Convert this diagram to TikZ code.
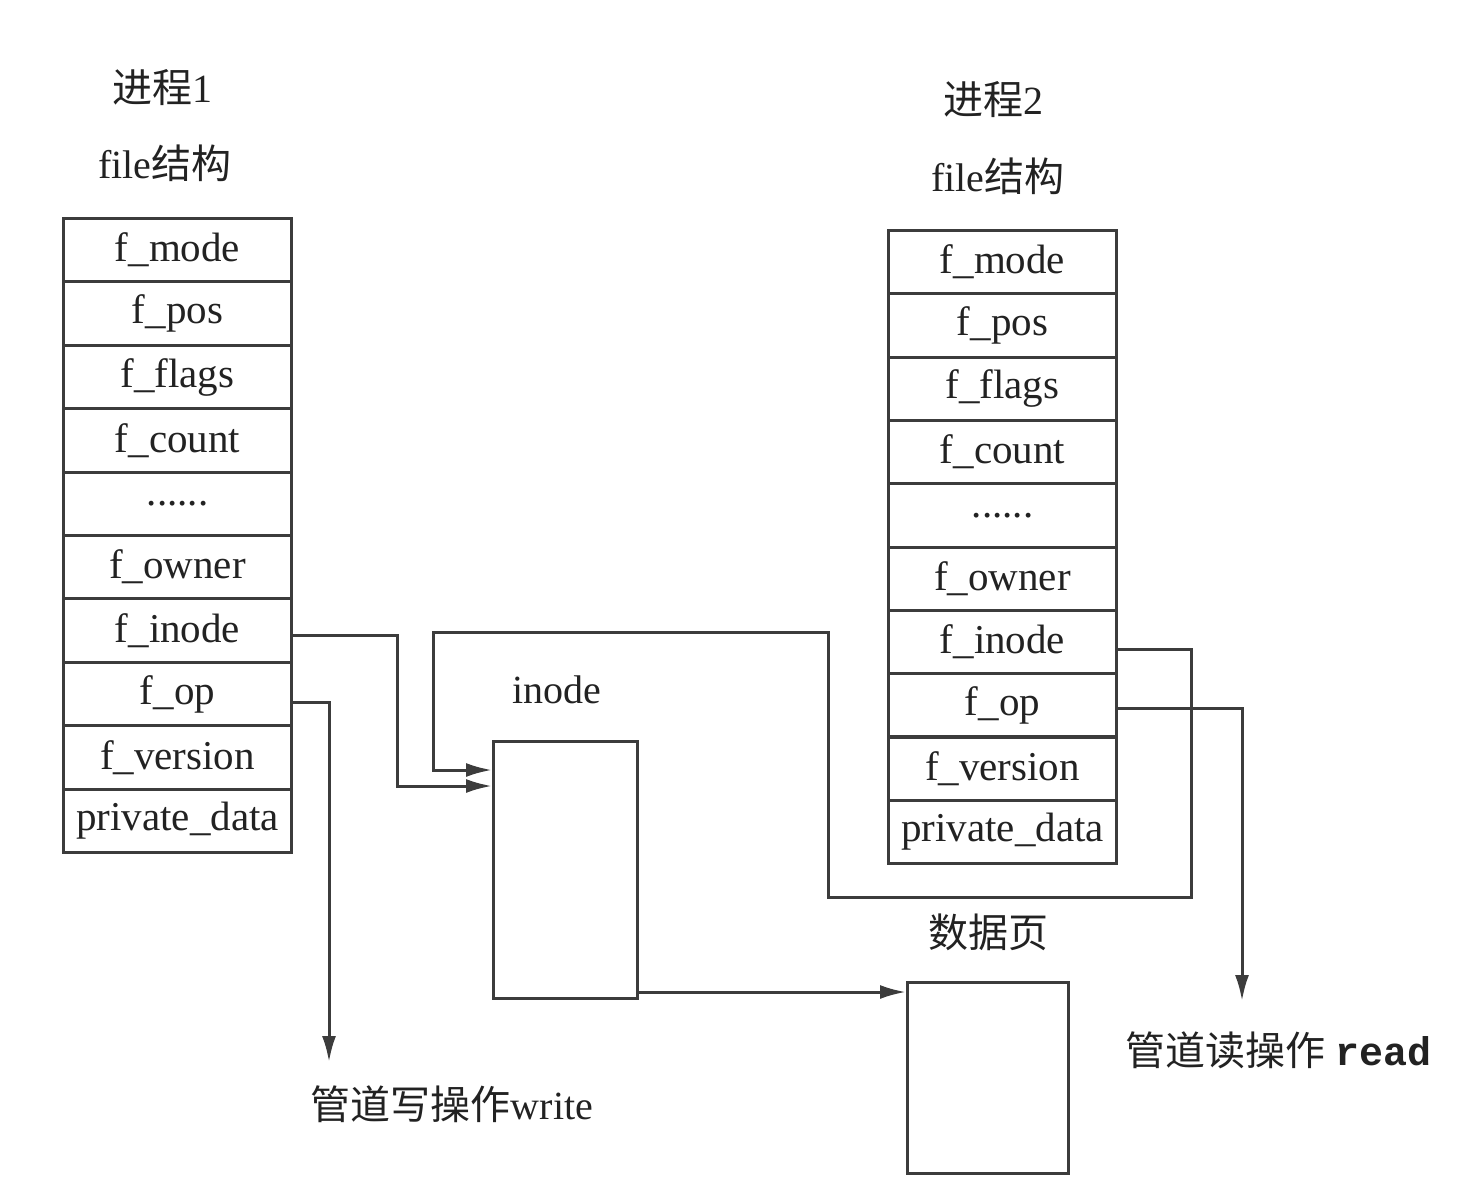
\documentclass[tikz,border=0pt]{standalone}
\usepackage{fontspec}
\setmainfont{Liberation Serif}
\newfontfamily\cjk{Noto Sans CJK SC}
\newfontfamily\monofnt{Liberation Mono}
\usetikzlibrary{arrows.meta,calc}
\definecolor{ln}{HTML}{3C3C3C}
\definecolor{tx}{HTML}{222222}
\newcommand\mydots{......}
\begin{document}
\begin{tikzpicture}[x=0.5pt,y=-0.5pt,
  cell/.style={draw=ln,line width=1.5pt,minimum width=114pt,minimum height=31.7pt,anchor=north west,inner sep=0pt,text=tx,font=\fontsize{20.5}{24}\selectfont},
  box/.style={draw=ln,line width=1.5pt,anchor=north west,inner sep=0pt},
  conn/.style={draw=ln,line width=1.5pt},
  tip/.style={-{Latex[length=13pt,width=7pt]}},
  lbl/.style={font=\fontsize{20}{24}\selectfont,inner sep=0pt,text=tx}]
\useasboundingbox (0,0) rectangle (1476,1198);
% left table
\foreach \t [count=\i from 0] in {f\_mode,f\_pos,f\_flags,f\_count,\mydots,f\_owner,f\_inode,f\_op,f\_version,private\_data}
  \node[cell] (L\i) at (62,{217+63.4*\i}) {\t};
% right table
\foreach \t [count=\i from 0] in {f\_mode,f\_pos,f\_flags,f\_count,\mydots,f\_owner,f\_inode,f\_op,f\_version,private\_data}
  \node[cell] (R\i) at (887,{229+63.3*\i}) {\t};
% labels
\node[lbl] (p1) at (162,88) {{\cjk 进程}1};
\node[lbl] (fs1) at (165,163) {file{\cjk 结构}};
\node[lbl] (p2) at (993,100) {{\cjk 进程}2};
\node[lbl] (fs2) at (998,176) {file{\cjk 结构}};
\node[lbl] (inl) at (557,690) {inode};
\node[lbl] (dpl) at (988,932) {\cjk 数据页};
\node[lbl] (wl) at (452,1104) {{\cjk 管道写操作}write};
\node[lbl] (rl) at (1278,1050) {{\cjk 管道读操作} {\monofnt\bfseries read}};
% boxes
\node[box,minimum width=72pt,minimum height=128.5pt] (ino) at (492,740) {};
\node[box,minimum width=80.5pt,minimum height=95.5pt] (dp) at (906,981) {};
% coordinates
\coordinate (t1) at ($(ino.north west)+(0,46)$);
\coordinate (t2) at ($(ino.north west)+(0,30)$);
\coordinate (w) at (329,1062);
\coordinate (rd) at (1242,1001);
\coordinate (s5) at ($(ino.south east)+(0,-8)$);
% connectors
\draw[conn,tip] ([yshift=-2.5pt]L6.east) -| (397,786) -- (t1);
\draw[conn,tip] ([yshift=-3.5pt]R6.east) -| (1191,897) -| (828,632) -| (433,770) -- (t2);
\draw[conn,tip] ([yshift=-4pt]L7.east) -| (w);
\draw[conn,tip] ([yshift=-1.5pt]R7.east) -| (rd);
\draw[conn,tip] (s5) -- (s5 -| dp.west);
\end{tikzpicture}
\end{document}
